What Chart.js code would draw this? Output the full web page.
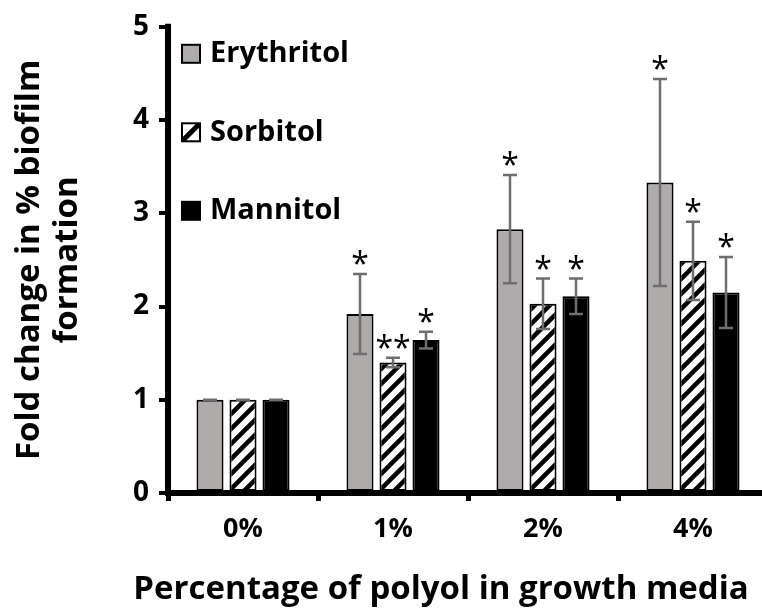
<!DOCTYPE html>
<html>
<head>
<meta charset="utf-8">
<script src="https://cdn.jsdelivr.net/npm/chart.js@4.4.1/dist/chart.umd.min.js"></script>
<style>
  html, body { margin: 0; padding: 0; background: #fff; overflow: hidden; }
  #wrap { width: 768px; height: 616px; }
</style>
</head>
<body>
<div id="wrap"><canvas id="biofilmChart" width="768" height="616"></canvas></div>
<script>
// Chart data
const categories = ['0%', '1%', '2%', '4%'];
const seriesNames = ['Erythritol', 'Sorbitol', 'Mannitol'];
const erythritolMean = [1.0, 1.92, 2.83, 3.33];
const erythritolErr = [0, 0.43, 0.58, 1.11];
const sorbitolMean = [1.0, 1.40, 2.03, 2.49];
const sorbitolErr = [0, 0.05, 0.27, 0.42];
const mannitolMean = [1.0, 1.64, 2.11, 2.15];
const mannitolErr = [0, 0.09, 0.19, 0.38];
const erythritolStars = ['', '*', '*', '*'];
const sorbitolStars = ['', '**', '*', '*'];
const mannitolStars = ['', '*', '*', '*'];
const yTicks = [0, 1, 2, 3, 4, 5];

const FONT = '"Open Sans", "DejaVu Sans", sans-serif';
const GRAY = '#afabab';
const ERR_COLOR = '#6e6e6e';

// Diagonal hatch used for sorbitol bars
function makeHatch() {
    const size = 15;
    const c = document.createElement('canvas');
    c.width = size;
    c.height = size;
    const p = c.getContext('2d');
    p.fillStyle = '#fff';
    p.fillRect(0, 0, size, size);
    p.strokeStyle = '#000';
    p.lineWidth = 4.5;
    p.beginPath();
    for (let k = -1; k <= 1; k++) {
        p.moveTo(k * size - 2, size + 2);
        p.lineTo(k * size + size + 2, -2);
    }
    p.stroke();
    return p.createPattern(c, 'repeat');
}

const hatch = makeHatch();

// Error bars, significance stars, legend and x title
const annotationPlugin = {
    id: 'annotations',
    afterDatasetsDraw(chart) {
        const ctx = chart.ctx;
        const yScale = chart.scales.y;
        ctx.save();
        chart.data.datasets.forEach((ds, i) => {
            const meta = chart.getDatasetMeta(i);
            meta.data.forEach((bar, j) => {
                const top = yScale.getPixelForValue(ds.data[j] + ds.errors[j]);
                const bottom = yScale.getPixelForValue(ds.data[j] - ds.errors[j]);
                ctx.strokeStyle = ERR_COLOR;
                ctx.lineWidth = 2.5;
                ctx.beginPath();
                ctx.moveTo(bar.x, top);
                ctx.lineTo(bar.x, bottom);
                ctx.moveTo(bar.x - 7, top);
                ctx.lineTo(bar.x + 7, top);
                ctx.moveTo(bar.x - 7, bottom);
                ctx.lineTo(bar.x + 7, bottom);
                ctx.stroke();

                if (ds.stars[j]) {
                    ctx.fillStyle = '#000';
                    ctx.font = '32px ' + FONT;
                    ctx.textAlign = 'center';
                    ctx.textBaseline = 'alphabetic';
                    ctx.fillText(ds.stars[j], bar.x, top + 1);
                }
            });
        });

        // redraw axis lines on top of the bars
        const area = chart.chartArea;
        ctx.strokeStyle = '#000';
        ctx.lineWidth = 6;
        ctx.beginPath();
        ctx.moveTo(area.left, area.top - 3);
        ctx.lineTo(area.left, area.bottom + 3);
        ctx.moveTo(area.left - 3, area.bottom);
        ctx.lineTo(area.right, area.bottom);
        ctx.stroke();
        ctx.restore();
    },
    afterDraw(chart) {
        const ctx = chart.ctx;
        const area = chart.chartArea;
        ctx.save();

        // Legend
        chart.data.datasets.forEach((ds, i) => {
            const bx = area.left + 14;
            const cy = area.top + 27 + i * 78.5;
            const s = 18;
            ctx.fillStyle = i === 1 ? '#fff' : ds.backgroundColor;
            ctx.fillRect(bx, cy - s / 2, s, s);
            if (i === 1) {
                ctx.save();
                ctx.beginPath();
                ctx.rect(bx, cy - s / 2, s, s);
                ctx.clip();
                ctx.strokeStyle = '#000';
                ctx.lineWidth = 5;
                ctx.beginPath();
                ctx.moveTo(bx, cy + s / 2);
                ctx.lineTo(bx + s, cy - s / 2);
                ctx.stroke();
                ctx.restore();
            }
            ctx.strokeStyle = '#000';
            ctx.lineWidth = 2;
            ctx.strokeRect(bx, cy - s / 2, s, s);

            ctx.fillStyle = '#000';
            ctx.font = 'bold 29px ' + FONT;
            ctx.textAlign = 'left';
            ctx.textBaseline = 'middle';
            ctx.fillText(ds.label, bx + 28, cy);
        });

        // X axis title
        ctx.fillStyle = '#000';
        ctx.font = 'bold 33px ' + FONT;
        ctx.textAlign = 'center';
        ctx.textBaseline = 'middle';
        ctx.fillText('Percentage of polyol in growth media', 441, 590);
        ctx.restore();
    }
};

const ctx = document.getElementById('biofilmChart').getContext('2d');
const biofilmChart = new Chart(ctx, {
    type: 'bar',
    data: {
        labels: categories,
        datasets: [
            {
                label: seriesNames[0],
                data: erythritolMean,
                errors: erythritolErr,
                stars: erythritolStars,
                backgroundColor: GRAY
            },
            {
                label: seriesNames[1],
                data: sorbitolMean,
                errors: sorbitolErr,
                stars: sorbitolStars,
                backgroundColor: hatch
            },
            {
                label: seriesNames[2],
                data: mannitolMean,
                errors: mannitolErr,
                stars: mannitolStars,
                backgroundColor: '#000'
            }
        ].map(ds => Object.assign(ds, {
            borderColor: '#000',
            borderWidth: 2,
            borderSkipped: false,
            categoryPercentage: 0.66,
            barPercentage: 0.82
        }))
    },
    options: {
        responsive: false,
        animation: false,
        layout: {
            padding: { top: 26, right: 0, bottom: 0, left: 0 }
        },
        plugins: {
            legend: { display: false },
            tooltip: { enabled: false }
        },
        scales: {
            x: {
                ticks: {
                    color: '#000',
                    font: { family: FONT, weight: 'bold', size: 27 },
                    padding: 12
                },
                grid: {
                    drawOnChartArea: false,
                    color: '#000',
                    lineWidth: 5,
                    tickLength: 8
                },
                border: { color: '#000', width: 6 },
                afterFit(scale) {
                    scale.height = 123;
                }
            },
            y: {
                min: 0,
                max: 5,
                afterBuildTicks(scale) {
                    scale.ticks = yTicks.map(v => ({ value: v }));
                },
                ticks: {
                    color: '#000',
                    font: { family: FONT, weight: 'bold', size: 28 },
                    padding: 10
                },
                grid: {
                    drawOnChartArea: false,
                    color: '#000',
                    lineWidth: 4,
                    tickLength: 9
                },
                border: { color: '#000', width: 6 },
                title: {
                    display: true,
                    text: ['Fold change in % biofilm', 'formation'],
                    color: '#000',
                    font: { family: FONT, weight: 'bold', size: 33, lineHeight: 1.16 },
                    padding: { top: 10, bottom: 0 }
                },
                afterFit(scale) {
                    scale.width = 168;
                }
            }
        }
    },
    plugins: [annotationPlugin]
});
</script>
</body>
</html>
